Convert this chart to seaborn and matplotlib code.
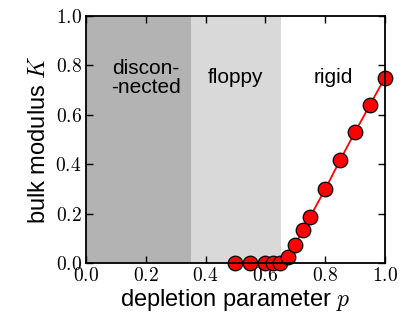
import matplotlib
matplotlib.use("Agg")
import matplotlib.pyplot as plt
import seaborn as sns
import pandas as pd

# data
p_vals = [0.50, 0.55, 0.60, 0.625, 0.65, 0.675, 0.70, 0.725, 0.75, 0.80, 0.85, 0.90, 0.95, 1.00]
K_vals = [0.0, 0.0, 0.0, 0.0, 0.0, 0.026, 0.074, 0.132, 0.187, 0.298, 0.416, 0.53, 0.64, 0.75]
regions = ["discon-\n-nected", "floppy", "rigid"]
region_edges = [0.0, 0.352, 0.652, 1.0]
region_colors = ["#b3b3b3", "#d9d9d9", "white"]

df = pd.DataFrame({"p": p_vals, "K": K_vals})

sns.set_style("ticks", {"axes.edgecolor": "black", "text.color": "black",
                        "axes.labelcolor": "black", "xtick.color": "black",
                        "ytick.color": "black"})
plt.rcParams["font.family"] = ["Liberation Sans", "DejaVu Sans"]
plt.rcParams["mathtext.fontset"] = "cm"

fig = plt.figure(figsize=(4.13, 3.18), dpi=100)
ax = fig.add_axes([0.208, 0.173, 0.724, 0.777])

for i in range(3):
    ax.axvspan(region_edges[i], region_edges[i + 1], color=region_colors[i], lw=0, zorder=0)

sns.lineplot(data=df, x="p", y="K", ax=ax, color="red", lw=1.3, marker="o",
             markersize=10.5, markerfacecolor="red", markeredgecolor="black",
             markeredgewidth=0.9, clip_on=False, zorder=3)

label_x = [0.20, 0.50, 0.826]
for name, xx in zip(regions, label_x):
    ax.text(xx, 0.75, name, ha="center", va="center", fontsize=15,
            linespacing=1.0, color="black")

ax.set_xlim(0, 1)
ax.set_ylim(0, 1)
ax.set_xticks([0, 0.2, 0.4, 0.6, 0.8, 1.0])
ax.set_yticks([0, 0.2, 0.4, 0.6, 0.8, 1.0])
ax.set_xticklabels([f"${t:.1f}$" for t in ax.get_xticks()])
ax.set_yticklabels([f"${t:.1f}$" for t in ax.get_yticks()])
ax.tick_params(direction="in", top=True, right=True, length=5, width=1,
               labelsize=14, pad=3)
for s in ax.spines.values():
    s.set_linewidth(1.3)
    s.set_zorder(5)

ax.set_xlabel("depletion parameter $p$", fontsize=17, labelpad=1)
ax.set_ylabel("bulk modulus $K$", fontsize=17, labelpad=4)

fig.savefig("out.png", dpi=100)
